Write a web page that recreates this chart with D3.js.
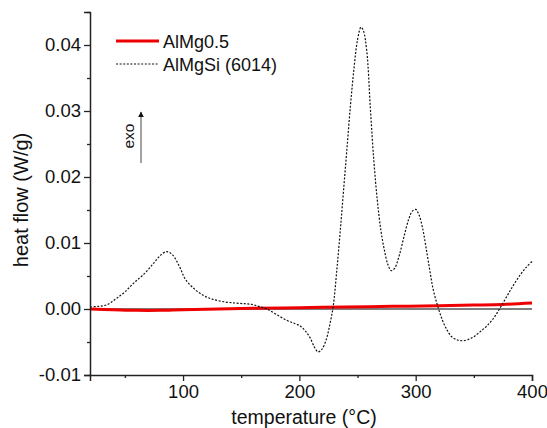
<!DOCTYPE html>
<html>
<head>
<meta charset="utf-8">
<script src="https://cdn.jsdelivr.net/npm/d3@7"></script>
<style>
  body { margin: 0; background: #fff; }
  text { font-family: "Liberation Sans", Arial, sans-serif; fill: #111; }
</style>
</head>
<body>
<svg id="chart" width="547" height="428"></svg>
<script>
// AlMgSi (6014), dotted curve: [temperature, heat flow]
const alMgSi = [
  [20, 0.0003], [27, 0.0004], [34, 0.0006], [42, 0.0015], [50, 0.0026],
  [58, 0.0040], [67, 0.0054], [75, 0.0070], [81, 0.0082], [86, 0.0087],
  [91, 0.0082], [97, 0.0064], [102, 0.0045], [110, 0.0030], [118, 0.0020],
  [125, 0.0015], [135, 0.0011], [145, 0.0009], [153, 0.0008], [159, 0.0007],
  [165, 0.0004], [172, 0.0000], [180, -0.0008], [189, -0.0017], [196, -0.0022],
  [201, -0.0026], [205, -0.0033], [209, -0.0043], [213, -0.0058], [216, -0.0065],
  [219, -0.0062], [223, -0.0047], [226, -0.0025], [229, 0.0003], [232, 0.0055],
  [235, 0.0115], [238, 0.0180], [241, 0.0245], [244, 0.0310], [247, 0.0365],
  [250, 0.0408], [253, 0.0427], [255, 0.0422], [258, 0.0390], [261, 0.0305],
  [264, 0.0225], [267, 0.0165], [270, 0.0120], [273, 0.0090], [276, 0.0068],
  [279, 0.0058], [282, 0.0062], [286, 0.0082], [290, 0.0110], [294, 0.0136],
  [297, 0.0148], [300, 0.0151], [303, 0.0142], [306, 0.0122], [309, 0.0092],
  [312, 0.0060], [315, 0.0030], [319, 0.0004], [323, -0.0017], [327, -0.0032],
  [331, -0.0042], [336, -0.0047], [341, -0.0048], [348, -0.0044], [355, -0.0035],
  [361, -0.0026], [367, -0.0014], [372, 0.0000], [378, 0.0018], [384, 0.0036],
  [390, 0.0052], [395, 0.0063], [400, 0.0072]
];

// AlMg0.5, solid red curve
const alMg = [
  [20, 0.0000], [40, -0.0001], [60, -0.0002], [80, -0.0002], [100, -0.0001],
  [130, 0.0000], [160, 0.0001], [200, 0.0002], [240, 0.0003], [280, 0.0004],
  [320, 0.0005], [350, 0.0006], [375, 0.0007], [400, 0.0009]
];

const xTicks = [100, 200, 300, 400];
const xMinor = [50, 150, 250, 350];
const yTicks = [-0.01, 0.00, 0.01, 0.02, 0.03, 0.04];
const yMinor = [-0.005, 0.005, 0.015, 0.025, 0.035, 0.045];

const legendItems = [
  { label: 'AlMg0.5', color: '#ee0000', width: 3, dash: null },
  { label: 'AlMgSi (6014)', color: '#111', width: 1.2, dash: '2,1.6' }
];

const svg = d3.select('#chart');
const m = { left: 90, right: 532, top: 12, bottom: 375 };

const x = d3.scaleLinear().domain([20, 400]).range([m.left, m.right]);
const y = d3.scaleLinear().domain([-0.01, 0.045]).range([m.bottom, m.top]);

const line = d3.line()
  .x(d => x(d[0]))
  .y(d => y(d[1]))
  .curve(d3.curveCatmullRom.alpha(0.5));

// zero line
svg.append('line')
  .attr('x1', x(20)).attr('x2', x(400))
  .attr('y1', y(0)).attr('y2', y(0))
  .attr('stroke', '#555')
  .attr('stroke-width', 1.5);

// red curve
svg.append('path')
  .datum(alMg)
  .attr('d', line)
  .attr('fill', 'none')
  .attr('stroke', '#ee0000')
  .attr('stroke-width', 3);

// dotted curve
svg.append('path')
  .datum(alMgSi)
  .attr('d', line)
  .attr('fill', 'none')
  .attr('stroke', '#111')
  .attr('stroke-width', 1.2)
  .attr('stroke-dasharray', '2,1.6');

// axes
const yFmt = d => d3.format('.2f')(d).replace('−', '-');

svg.append('g')
  .attr('transform', `translate(0, ${m.bottom})`)
  .call(d3.axisBottom(x).tickValues(xTicks).tickSize(6).tickPadding(4).tickFormat(d3.format('d')));

svg.append('g')
  .attr('transform', `translate(0, ${m.bottom})`)
  .call(d3.axisBottom(x).tickValues(xMinor).tickSize(3).tickFormat(''))
  .select('.domain').remove();

svg.append('g')
  .attr('transform', `translate(${m.left}, 0)`)
  .call(d3.axisLeft(y).tickValues(yTicks).tickSize(6).tickPadding(3).tickFormat(yFmt));

svg.append('g')
  .attr('transform', `translate(${m.left}, 0)`)
  .call(d3.axisLeft(y).tickValues(yMinor).tickSize(3).tickFormat(''))
  .select('.domain').remove();

svg.selectAll('.domain').attr('stroke', '#222').attr('stroke-width', 1.5);
svg.selectAll('.tick line').attr('stroke', '#222').attr('stroke-width', 1.3);
svg.selectAll('.tick text')
  .style('font-family', '"Liberation Sans", Arial, sans-serif')
  .style('font-size', '18.5px')
  .attr('fill', '#111');

// axis titles
svg.append('text')
  .attr('x', 304)
  .attr('y', 424)
  .attr('text-anchor', 'middle')
  .style('font-size', '19.5px')
  .text('temperature (°C)');

svg.append('text')
  .attr('transform', 'translate(28, 200) rotate(-90)')
  .attr('text-anchor', 'middle')
  .style('font-size', '20px')
  .text('heat flow (W/g)');

// legend
const legend = svg.append('g').attr('transform', 'translate(116, 41)');
legendItems.forEach((it, i) => {
  const g = legend.append('g').attr('transform', `translate(0, ${i * 23})`);
  g.append('line')
    .attr('x1', 0).attr('x2', 43)
    .attr('stroke', it.color)
    .attr('stroke-width', it.width)
    .attr('stroke-dasharray', it.dash);
  g.append('text')
    .attr('x', 47)
    .attr('y', 7)
    .style('font-size', '18px')
    .text(it.label);
});

// exo arrow
svg.append('defs').append('marker')
  .attr('id', 'head')
  .attr('viewBox', '0 0 10 10')
  .attr('refX', 9).attr('refY', 5)
  .attr('markerWidth', 6).attr('markerHeight', 7)
  .attr('markerUnits', 'userSpaceOnUse')
  .attr('orient', 'auto')
  .append('path')
  .attr('d', 'M0,0L10,5L0,10Z')
  .attr('fill', '#111');

svg.append('line')
  .attr('x1', 141).attr('x2', 141)
  .attr('y1', 163).attr('y2', 112)
  .attr('stroke', '#666')
  .attr('stroke-width', 1.2)
  .attr('marker-end', 'url(#head)');

svg.append('text')
  .attr('transform', 'translate(134, 136) rotate(-90)')
  .attr('text-anchor', 'middle')
  .style('font-size', '15.5px')
  .text('exo');
</script>
</body>
</html>
